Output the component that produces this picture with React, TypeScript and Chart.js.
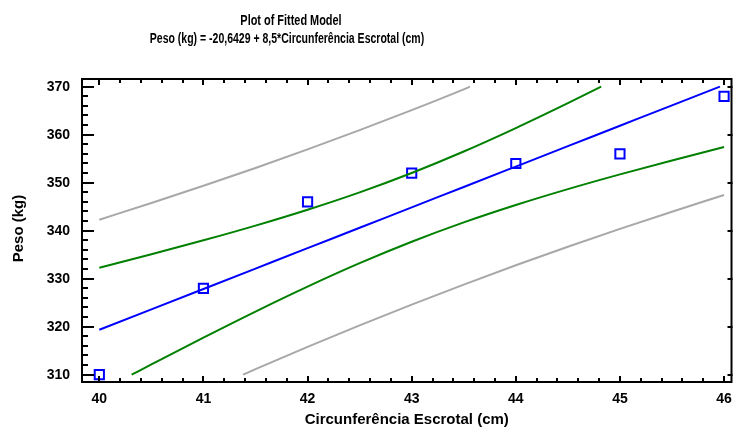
import React, { useEffect, useRef } from "react";
import { Chart, registerables } from "chart.js";

Chart.register(...registerables);

// Observed data
const circObs = [40, 41, 42, 43, 44, 45, 46];
const pesoObs = [310, 328, 346, 352, 354, 356, 368];

// Fitted line
const fitX = [40, 40.5, 41, 41.5, 42, 42.5, 43, 43.5, 44, 44.5, 45, 45.5, 45.96];
const fitY = [319.36, 323.61, 327.86, 332.11, 336.36, 340.61, 344.86, 349.11, 353.36, 357.61, 361.86, 366.11, 370.0];

// Confidence limits (green)
const ciUpX = [40, 40.5, 41, 41.5, 42, 42.5, 43, 43.5, 44, 44.5, 44.82];
const ciUpY = [332.27, 335.08, 337.99, 341.06, 344.37, 347.99, 352.02, 356.49, 361.37, 366.56, 370.0];
const ciLoX = [40.31, 40.5, 41, 41.5, 42, 42.5, 43, 43.5, 44, 44.5, 45, 45.5, 46];
const ciLoY = [310.0, 312.14, 317.73, 323.16, 328.35, 333.23, 337.7, 341.73, 345.35, 348.66, 351.73, 354.64, 357.45];

// Prediction limits (gray)
const piUpX = [40, 40.5, 41, 41.5, 42, 42.5, 43, 43.5, 43.56];
const piUpY = [342.29, 345.76, 349.35, 353.07, 356.93, 360.95, 365.12, 369.45, 370.0];
const piLoX = [41.38, 41.5, 42, 42.5, 43, 43.5, 44, 44.5, 45, 45.5, 46];
const piLoY = [310.0, 311.15, 315.79, 320.27, 324.6, 328.77, 332.79, 336.65, 340.37, 343.96, 347.43];

// Axis ticks
const xTicks = [40, 41, 42, 43, 44, 45, 46];
const yTicks = [310, 320, 330, 340, 350, 360, 370];

const titleLine1 = "Plot of Fitted Model";
const titleLine2 = "Peso (kg) = -20,6429 + 8,5*Circunferência Escrotal (cm)";
const xTitle = "Circunferência Escrotal (cm)";
const yTitle = "Peso (kg)";

const pts = (xs: number[], ys: number[]) => xs.map((x, i) => ({ x, y: ys[i] }));

const framePlugin = {
  id: "frameTicks",
  afterDraw(chart: any) {
    const { ctx, chartArea } = chart;
    const xs = chart.scales.x;
    const ys = chart.scales.y;
    const { left, right, top, bottom } = chartArea;
    ctx.save();
    ctx.strokeStyle = "#000";
    ctx.lineWidth = 2;
    ctx.strokeRect(left + 1, top + 1, right - left - 2, bottom - top - 2);

    ctx.lineWidth = 2;
    ctx.beginPath();
    const xMin = xTicks[0];
    const xMax = xTicks[xTicks.length - 1];
    for (let k = 0; k <= (xMax - xMin) * 5; k++) {
      const v = xMin + k * 0.2;
      const px = Math.round(xs.getPixelForValue(v));
      const major = k % 5 === 0;
      const len = major ? 7 : 5;
      ctx.moveTo(px, bottom);
      ctx.lineTo(px, bottom - len);
      ctx.moveTo(px, top);
      ctx.lineTo(px, top + len);
    }
    const yMin = yTicks[0];
    const yMax = yTicks[yTicks.length - 1];
    for (let k = 0; k <= (yMax - yMin) / 2; k++) {
      const v = yMin + k * 2;
      const py = Math.round(ys.getPixelForValue(v));
      const major = k % 5 === 0;
      ctx.moveTo(left, py);
      ctx.lineTo(left + (major ? 13 : 7), py);
      if (major) {
        ctx.moveTo(right, py);
        ctx.lineTo(right - 5, py);
      }
    }
    ctx.stroke();

    // tick labels
    ctx.fillStyle = "#000";
    ctx.font = "bold 14px 'Liberation Sans', Arial, sans-serif";
    ctx.textAlign = "center";
    ctx.textBaseline = "middle";
    xTicks.forEach((v) => {
      ctx.fillText(String(v), xs.getPixelForValue(v), 399);
    });
    ctx.textAlign = "right";
    yTicks.forEach((v) => {
      ctx.fillText(String(v), 70, ys.getPixelForValue(v));
    });

    // axis titles
    ctx.font = "bold 15px 'Liberation Sans', Arial, sans-serif";
    ctx.textAlign = "center";
    ctx.fillText(xTitle, (left + right) / 2, 420);
    ctx.save();
    ctx.translate(19, (top + bottom) / 2 - 2);
    ctx.rotate(-Math.PI / 2);
    ctx.fillText(yTitle, 0, 0);
    ctx.restore();

    // titles (condensed look via horizontal scaling)
    ctx.font = "bold 14px 'Liberation Sans', Arial, sans-serif";
    ctx.save();
    ctx.translate(291, 21);
    ctx.scale(0.78, 1);
    ctx.fillText(titleLine1, 0, 0);
    ctx.restore();
    ctx.save();
    ctx.translate(287, 39);
    ctx.scale(0.75, 1);
    ctx.fillText(titleLine2, 0, 0);
    ctx.restore();
    ctx.restore();
  },
};

export default function App() {
  const ref = useRef<HTMLCanvasElement>(null);
  useEffect(() => {
    if (!ref.current) return;
    const lineDs = (label: string, data: any[], color: string) => ({
      label,
      data,
      showLine: true,
      borderColor: color,
      backgroundColor: color,
      borderWidth: 2,
      pointRadius: 0,
      cubicInterpolationMode: "monotone" as const,
      fill: false,
    });
    const chart = new Chart(ref.current, {
      type: "scatter",
      data: {
        datasets: [
          lineDs("Pred upper", pts(piUpX, piUpY), "#a8a8a8"),
          lineDs("Pred lower", pts(piLoX, piLoY), "#a8a8a8"),
          lineDs("Conf upper", pts(ciUpX, ciUpY), "#008000"),
          lineDs("Conf lower", pts(ciLoX, ciLoY), "#008000"),
          lineDs("Fitted", pts(fitX, fitY), "#0000ff"),
          {
            label: "Observed",
            data: pts(circObs, pesoObs),
            showLine: false,
            pointStyle: "rect",
            pointRadius: 6.5,
            pointHoverRadius: 6.5,
            borderColor: "#0000ff",
            backgroundColor: "rgba(0,0,0,0)",
            borderWidth: 2,
          },
        ],
      },
      options: {
        animation: false,
        responsive: false,
        devicePixelRatio: 1,
        layout: { padding: { left: 81, top: 78, right: 4, bottom: 44 } },
        plugins: { legend: { display: false }, tooltip: { enabled: false }, title: { display: false } },
        scales: {
          x: { type: "linear", min: 39.824, max: 46.081, display: false },
          y: { type: "linear", min: 308.27, max: 371.81, display: false },
        },
        clip: false as any,
      },
      plugins: [framePlugin],
    });
    return () => chart.destroy();
  }, []);
  return (
    <div style={{ position: "absolute", left: 0, top: 0, width: 741, height: 427, background: "#fff" }}>
      <canvas ref={ref} width={741} height={427} style={{ display: "block" }} />
    </div>
  );
}
